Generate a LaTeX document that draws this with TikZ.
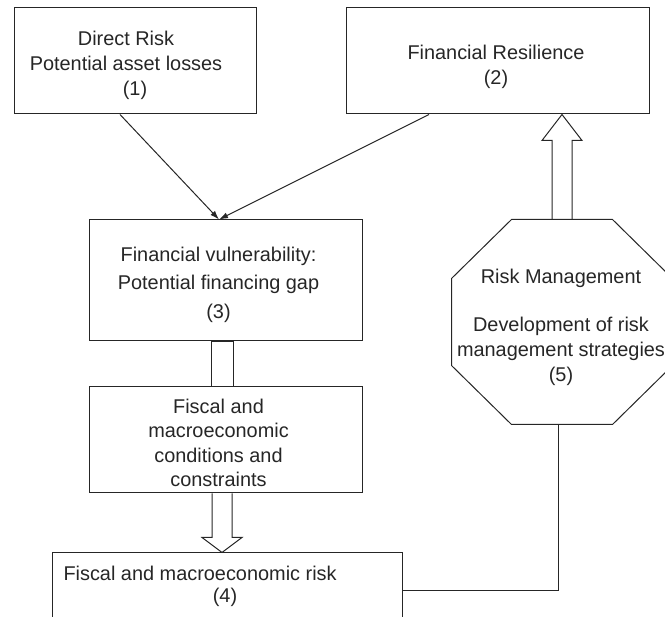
\documentclass[tikz,border=0pt]{standalone}
\usepackage{fontspec}
\setmainfont{Liberation Sans}
\usetikzlibrary{arrows.meta, calc, positioning}

\begin{document}
\begin{tikzpicture}[x=1pt, y=-1pt, line width=1pt, color=black!85,
  box/.style={draw, rectangle, inner sep=0pt},
  txt/.style={inner sep=0pt, align=center, font=\fontsize{19.9}{25}\selectfont},
  link/.style={-{Latex[length=9pt,width=6pt]}},
  hollow/.style={draw, line join=miter}]
\useasboundingbox (0,0) rectangle (665,617);
\clip (0,0) rectangle (665,617);
% boxes
\node[box, minimum width=242pt, minimum height=106pt] (risk) at (135,61) {};
\node[txt] (risktxt) at (126,65.5) {Direct Risk\\Potential asset losses\\\hspace*{18pt}(1)};
\node[box, minimum width=303pt, minimum height=106pt] (resil) at (497.5,61) {};
\node[txt] (resiltxt) at (496,67) {Financial Resilience\\(2)};
\node[box, minimum width=273pt, minimum height=121pt] (vuln) at (225.5,280.5) {};
\node[txt, font=\fontsize{19.9}{28.5}\selectfont] (vulntxt) at (218.5,284.5) {Financial vulnerability:\\Potential financing gap\\(3)};
\node[box, minimum width=273pt, minimum height=106pt] (cond) at (225.5,440) {};
\node[txt, font=\fontsize{19.9}{24.3}\selectfont] (condtxt) at (218.5,443) {Fiscal and\\macroeconomic\\conditions and\\constraints};
\node[box, minimum width=350pt, minimum height=76pt] (fisc) at (227,591) {};
\node[txt, anchor=base west] (fisctxt) at (63,581) {Fiscal and macroeconomic risk};
\node[txt, anchor=base] (fiscnum) at (225,603) {(4)};
% octagon
\node[box, draw=none, minimum width=220pt, minimum height=204pt] (mgmt) at (562,322) {};
\node[txt] (mgmttxt) at (561,327) {Risk Management\\[23pt]Development of risk\\management strategies\\(5)};
\draw ($(mgmt.north west)+(60,0)$) -- ($(mgmt.north east)+(-60,0)$) -- ($(mgmt.north east)+(0,59)$)
  -- ($(mgmt.south east)+(0,-59)$) -- ($(mgmt.south east)+(-60,0)$) -- ($(mgmt.south west)+(60,0)$)
  -- ($(mgmt.south west)+(0,-59)$) -- ($(mgmt.north west)+(0,59)$) -- cycle;
% thin arrows
\draw[link] ([xshift=-15pt]risk.south) -- ([xshift=-6.5pt]vuln.north);
\draw[link] ([xshift=-68.5pt]resil.south) -- ([xshift=-6.5pt]vuln.north);
% hollow arrows
\coordinate (up0) at (mgmt.north);
\coordinate (up1) at (mgmt.north |- resil.south);
\draw[hollow] ($(up0)+(-10,0)$) -- ($(up1)+(-10,26)$) -- ($(up1)+(-20,26)$) -- (up1)
  -- ($(up1)+(20,26)$) -- ($(up1)+(10,26)$) -- ($(up0)+(10,0)$);
\draw[hollow] ($(vuln.south)+(-14.5,0)$) rectangle ($(cond.north)+(7.5,0)$);
\coordinate (dn0) at ([xshift=-3.5pt]cond.south);
\coordinate (dn1) at (dn0 |- fisc.north);
\draw[hollow] ($(dn0)+(-10,0)$) -- ($(dn1)+(-10,-15)$) -- ($(dn1)+(-20,-15)$) -- (dn1)
  -- ($(dn1)+(20,-15)$) -- ($(dn1)+(10,-15)$) -- ($(dn0)+(10,0)$);
% feedback line
\draw ([xshift=-4pt]mgmt.south) |- (fisc.east);
\end{tikzpicture}
\end{document}
